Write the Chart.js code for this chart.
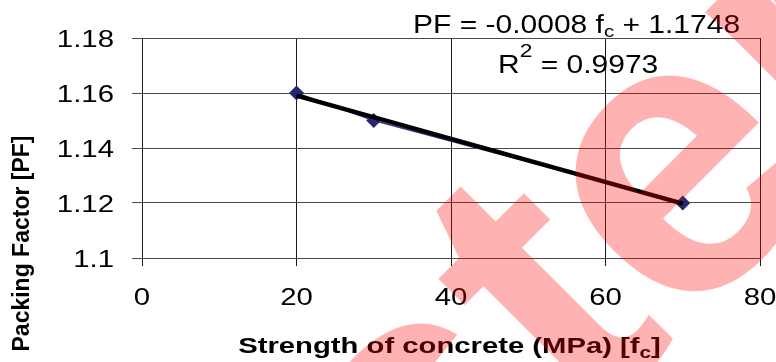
<!DOCTYPE html>
<html>
<head>
<meta charset="utf-8">
<script src="https://cdn.jsdelivr.net/npm/chart.js@4/dist/chart.umd.min.js"></script>
<style>
  html, body { margin: 0; padding: 0; background: #ffffff; }
  canvas { display: block; }
</style>
</head>
<body>
<canvas id="chart" width="776" height="362"></canvas>
<script>
// Concrete strength (MPa) and measured packing factor
const strength = [20, 30, 70];
const packingFactor = [1.16, 1.15, 1.12];

// Axis ticks
const xTicks = [0, 20, 40, 60, 80];
const yTicks = [1.1, 1.12, 1.14, 1.16, 1.18];

// Text
const xTitle = ['Strength of concrete (MPa) [f', 'c', ']'];
const yTitle = 'Packing Factor [PF]';
const stampText = 'ster';

// Least-squares line through the measurements
function linearFit(xs, ys) {
  const n = xs.length;
  const mx = xs.reduce((a, b) => a + b, 0) / n;
  const my = ys.reduce((a, b) => a + b, 0) / n;
  let sxy = 0, sxx = 0, syy = 0;
  for (let i = 0; i < n; i++) {
    sxy += (xs[i] - mx) * (ys[i] - my);
    sxx += (xs[i] - mx) ** 2;
    syy += (ys[i] - my) ** 2;
  }
  const slope = sxy / sxx;
  return { slope, intercept: my - slope * mx, r2: (sxy * sxy) / (sxx * syy) };
}
const fit = linearFit(strength, packingFactor);
const xFirst = strength[0], xLast = strength[strength.length - 1];

const FONT = '"Liberation Sans", Arial, sans-serif';
const STRETCH = 1.25;

// Draw a sequence of text runs (for sub/superscripts), horizontally widened
function drawRuns(ctx, runs, x, y, align, sx) {
  let w = 0;
  for (const r of runs) { ctx.font = r.font; r.w = ctx.measureText(r.text).width; w += r.w; }
  let cx = align === 'center' ? -w / 2 : (align === 'right' ? -w : 0);
  ctx.save();
  ctx.translate(x, y);
  ctx.scale(sx, 1);
  ctx.textAlign = 'left';
  ctx.textBaseline = 'alphabetic';
  ctx.fillStyle = '#000000';
  for (const r of runs) {
    ctx.font = r.font;
    ctx.fillText(r.text, cx, r.dy || 0);
    cx += r.w;
  }
  ctx.restore();
}

const textPlugin = {
  id: 'chartText',
  afterDraw(chart) {
    const ctx = chart.ctx;
    const xs = chart.scales.x, ys = chart.scales.y;
    const tickFont = '23.5px ' + FONT;

    // y tick labels
    ys.ticks.forEach(t => {
      const py = ys.getPixelForValue(t.value);
      drawRuns(ctx, [{ text: String(t.label), font: tickFont }], 114, py + 8.5, 'right', STRETCH);
    });
    // x tick labels
    xs.ticks.forEach(t => {
      const px = xs.getPixelForValue(t.value);
      drawRuns(ctx, [{ text: String(t.label), font: tickFont }], px, 305, 'center', STRETCH);
    });

    // x axis title
    const bold = 'bold 22.5px ' + FONT;
    drawRuns(ctx, [
      { text: xTitle[0], font: bold },
      { text: xTitle[1], font: 'bold 16px ' + FONT, dy: 5 },
      { text: xTitle[2], font: bold }
    ], 449.5, 353, 'center', 1.3);

    // y axis title
    ctx.save();
    ctx.translate(29, 243.5);
    ctx.rotate(-Math.PI / 2);
    ctx.font = 'bold 23px ' + FONT;
    ctx.fillStyle = '#000000';
    ctx.textAlign = 'center';
    ctx.textBaseline = 'alphabetic';
    ctx.fillText(yTitle, 0, 0);
    ctx.restore();

    // trendline equation and R squared
    const eqFont = '25px ' + FONT;
    const sign = fit.intercept >= 0 ? ' + ' : ' - ';
    drawRuns(ctx, [
      { text: 'PF = ' + fit.slope.toFixed(4) + ' f', font: eqFont },
      { text: 'c', font: '17px ' + FONT, dy: 4 },
      { text: sign + Math.abs(fit.intercept).toFixed(4), font: eqFont }
    ], 413, 33, 'left', 1.2);
    drawRuns(ctx, [
      { text: 'R', font: eqFont },
      { text: '2', font: '19px ' + FONT, dy: -16 },
      { text: ' = ' + fit.r2.toFixed(4), font: eqFont }
    ], 498, 73, 'left', 1.2);

    // translucent stamp over the whole figure
    ctx.save();
    ctx.translate(427, 589);
    ctx.rotate(-Math.PI / 4);
    ctx.font = 'bold 400px ' + FONT;
    ctx.fillStyle = 'rgba(255, 0, 0, 0.3)';
    ctx.textAlign = 'left';
    ctx.textBaseline = 'alphabetic';
    ctx.fillText(stampText, 0, 0);
    ctx.restore();
  }
};

new Chart(document.getElementById('chart'), {
  type: 'scatter',
  data: {
    datasets: [
      {
        label: 'Packing factor',
        data: strength.map((x, i) => ({ x, y: packingFactor[i] })),
        showLine: true,
        borderColor: '#33338a',
        borderWidth: 1.5,
        backgroundColor: '#262673',
        pointStyle: 'rectRot',
        pointRadius: 7.5,
        pointBorderWidth: 0,
        order: 2
      },
      {
        label: 'Linear fit',
        data: [xFirst, xLast].map(x => ({ x, y: fit.slope * x + fit.intercept })),
        showLine: true,
        borderColor: '#000000',
        borderWidth: 4.5,
        pointRadius: 0,
        order: 1
      }
    ]
  },
  options: {
    responsive: false,
    animation: false,
    devicePixelRatio: 1,
    layout: { padding: { top: 38, right: 16, left: 0, bottom: 0 } },
    plugins: { legend: { display: false }, tooltip: { enabled: false } },
    scales: {
      x: {
        type: 'linear',
        min: xTicks[0],
        max: xTicks[xTicks.length - 1],
        afterBuildTicks: s => { s.ticks = xTicks.map(v => ({ value: v })); },
        afterFit: s => { s.height = 104; },
        ticks: { display: false, callback: v => String(v) },
        grid: { color: '#1a1a1a', lineWidth: 1, tickLength: 8, drawTicks: true },
        border: { color: '#4a4a4a', width: 1 }
      },
      y: {
        type: 'linear',
        min: yTicks[0],
        max: yTicks[yTicks.length - 1],
        afterBuildTicks: s => { s.ticks = yTicks.map(v => ({ value: v })); },
        afterFit: s => { s.width = 142; },
        ticks: { display: false, callback: v => String(v) },
        grid: { color: '#4a4a4a', lineWidth: 1, tickLength: 10, drawTicks: true },
        border: { color: '#1a1a1a', width: 1 }
      }
    }
  },
  plugins: [textPlugin]
});
</script>
</body>
</html>
